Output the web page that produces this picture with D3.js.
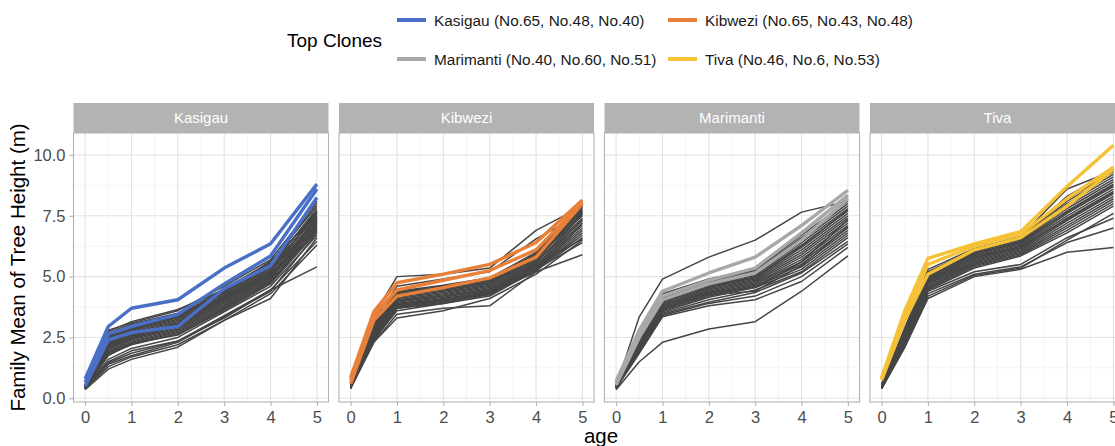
<!DOCTYPE html>
<html>
<head>
<meta charset="utf-8">
<script src="https://cdn.jsdelivr.net/npm/d3@7"></script>
<style>
  html, body { margin: 0; padding: 0; background: #ffffff; overflow: hidden; }
  svg { display: block; font-family: "Liberation Sans", Arial, sans-serif; }
</style>
</head>
<body>
<svg id="chart" width="1115" height="446"></svg>
<script>
// Ages at which family means were measured
const ages = [0, 0.5, 1, 2, 3, 4, 5];

const sites = ["Kasigau", "Kibwezi", "Marimanti", "Tiva"];
const siteColors = ["#4A6FC7", "#E9803A", "#A8A8A8", "#F5C136"];
const legendLabels = [
  "Kasigau (No.65, No.48, No.40)",
  "Kibwezi (No.65, No.43, No.48)",
  "Marimanti (No.40, No.60, No.51)",
  "Tiva (No.46, No.6, No.53)"
];
const xTicks = [0, 1, 2, 3, 4, 5];
const yTicks = [0, 2.5, 5, 7.5, 10];

// Family mean heights (m) by age, all families per site
const kasigauFamilies = [
  [0.45, 2.80, 3.10, 3.60, 4.60, 5.70, 8.10],
  [0.50, 2.70, 3.05, 3.50, 4.50, 5.60, 7.90],
  [0.40, 2.60, 2.95, 3.40, 4.45, 5.55, 8.00],
  [0.55, 2.55, 2.90, 3.35, 4.40, 5.50, 7.70],
  [0.45, 2.50, 2.85, 3.30, 4.30, 5.40, 7.80],
  [0.50, 2.40, 2.80, 3.25, 4.25, 5.35, 7.50],
  [0.40, 2.35, 2.75, 3.20, 4.20, 5.30, 7.60],
  [0.45, 2.30, 2.70, 3.15, 4.15, 5.25, 7.40],
  [0.50, 2.25, 2.65, 3.10, 4.10, 5.20, 7.30],
  [0.40, 2.20, 2.60, 3.05, 4.05, 5.15, 7.70],
  [0.45, 2.15, 2.55, 3.00, 4.00, 5.10, 7.20],
  [0.55, 2.10, 2.50, 2.95, 3.95, 5.05, 7.35],
  [0.40, 2.05, 2.45, 2.90, 3.90, 5.00, 7.10],
  [0.50, 2.00, 2.40, 2.85, 3.85, 4.95, 7.00],
  [0.45, 1.95, 2.35, 2.80, 3.80, 4.90, 7.25],
  [0.40, 1.90, 2.30, 2.75, 3.75, 4.85, 6.90],
  [0.50, 1.85, 2.25, 2.70, 3.70, 4.80, 7.05],
  [0.45, 1.80, 2.20, 2.65, 3.65, 4.75, 6.95],
  [0.40, 1.75, 2.25, 2.60, 3.60, 4.70, 6.85],
  [0.50, 2.60, 3.00, 3.45, 4.35, 5.45, 7.45],
  [0.45, 2.45, 2.85, 3.35, 4.35, 5.65, 7.55],
  [0.55, 2.75, 3.15, 3.65, 4.45, 5.50, 7.65],
  [0.40, 2.20, 2.55, 3.10, 4.20, 5.10, 7.15],
  [0.50, 2.05, 2.45, 3.00, 4.10, 5.00, 7.40],
  [0.40, 1.60, 2.05, 2.50, 3.55, 4.60, 6.70],
  [0.45, 1.45, 1.85, 2.35, 3.30, 4.45, 6.45],
  [0.40, 1.30, 1.70, 2.20, 3.20, 4.30, 6.30],
  [0.35, 1.20, 1.60, 2.10, 3.20, 4.10, 6.60],
  [0.45, 1.50, 1.95, 2.35, 3.40, 4.45, 5.40],
  [0.40, 1.40, 1.75, 2.30, 3.35, 4.40, 6.80]
];
const kibweziFamilies = [
  [0.55, 3.10, 4.40, 4.65, 4.95, 6.00, 7.90],
  [0.50, 3.00, 4.35, 4.60, 4.90, 5.95, 7.80],
  [0.60, 2.95, 4.30, 4.55, 4.85, 5.90, 7.70],
  [0.45, 2.90, 4.25, 4.50, 4.80, 5.85, 7.85],
  [0.55, 2.85, 4.20, 4.45, 4.75, 5.80, 7.60],
  [0.50, 2.80, 4.15, 4.40, 4.70, 5.75, 7.50],
  [0.40, 2.75, 4.10, 4.35, 4.65, 5.70, 7.65],
  [0.55, 2.70, 4.05, 4.30, 4.60, 5.65, 7.40],
  [0.50, 2.65, 4.00, 4.25, 4.55, 5.60, 7.30],
  [0.45, 2.60, 3.95, 4.20, 4.50, 5.55, 7.55],
  [0.60, 2.55, 3.90, 4.15, 4.45, 5.50, 7.20],
  [0.50, 2.50, 3.85, 4.10, 4.40, 5.45, 7.10],
  [0.45, 2.45, 3.80, 4.05, 4.35, 5.40, 7.00],
  [0.55, 2.40, 3.75, 4.00, 4.30, 5.35, 6.90],
  [0.40, 2.35, 3.70, 3.95, 4.25, 5.30, 6.80],
  [0.50, 2.60, 3.85, 4.05, 4.30, 5.30, 6.70],
  [0.45, 2.50, 3.70, 3.90, 4.20, 5.25, 6.60],
  [0.55, 2.75, 4.00, 4.20, 4.45, 5.45, 7.35],
  [0.50, 2.95, 4.25, 4.45, 4.75, 5.75, 7.75],
  [0.60, 3.05, 4.35, 4.60, 4.85, 5.90, 7.95],
  [0.60, 3.40, 5.00, 5.10, 5.35, 6.90, 7.90],
  [0.55, 3.20, 4.60, 4.90, 5.20, 6.55, 7.60],
  [0.40, 2.30, 3.45, 3.70, 3.80, 5.20, 7.20],
  [0.45, 2.30, 3.30, 3.60, 4.10, 5.10, 6.50],
  [0.45, 2.40, 3.60, 3.90, 4.30, 5.20, 5.90],
  [0.50, 2.50, 3.75, 4.00, 4.35, 5.30, 6.40],
  [0.50, 2.55, 3.80, 4.05, 4.40, 5.45, 6.55]
];
const marimantiFamilies = [
  [0.50, 2.70, 4.30, 4.90, 5.30, 6.80, 8.30],
  [0.45, 2.65, 4.25, 4.85, 5.25, 6.70, 8.10],
  [0.55, 2.60, 4.20, 4.80, 5.20, 6.60, 8.00],
  [0.40, 2.55, 4.15, 4.75, 5.15, 6.50, 7.90],
  [0.50, 2.50, 4.10, 4.70, 5.10, 6.40, 7.80],
  [0.45, 2.45, 4.05, 4.65, 5.05, 6.30, 7.70],
  [0.55, 2.40, 4.00, 4.60, 5.00, 6.20, 7.60],
  [0.40, 2.35, 3.95, 4.55, 4.95, 6.10, 7.50],
  [0.50, 2.30, 3.90, 4.50, 4.90, 6.00, 7.40],
  [0.45, 2.25, 3.85, 4.45, 4.85, 5.90, 7.30],
  [0.55, 2.20, 3.80, 4.40, 4.80, 5.80, 7.20],
  [0.40, 2.15, 3.75, 4.35, 4.75, 5.70, 7.10],
  [0.50, 2.10, 3.70, 4.30, 4.70, 5.60, 7.00],
  [0.45, 2.05, 3.65, 4.25, 4.65, 5.50, 6.90],
  [0.55, 2.00, 3.60, 4.20, 4.60, 5.40, 6.80],
  [0.40, 1.95, 3.55, 4.15, 4.55, 5.30, 6.70],
  [0.50, 2.00, 3.50, 4.05, 4.45, 5.20, 6.60],
  [0.45, 1.90, 3.45, 3.95, 4.35, 5.15, 6.45],
  [0.50, 2.35, 3.85, 4.35, 4.55, 5.60, 7.35],
  [0.45, 2.55, 4.10, 4.60, 4.95, 6.25, 7.75],
  [0.40, 2.20, 3.70, 4.25, 4.40, 5.45, 7.05],
  [0.50, 3.35, 4.90, 5.80, 6.50, 7.65, 8.10],
  [0.35, 1.50, 2.30, 2.85, 3.15, 4.40, 5.85],
  [0.40, 1.85, 3.35, 3.80, 4.05, 4.80, 6.20],
  [0.45, 1.90, 3.40, 3.90, 4.20, 5.00, 6.35]
];
const tivaFamilies = [
  [0.55, 2.90, 5.20, 6.10, 6.60, 8.30, 9.40],
  [0.50, 2.85, 5.15, 6.05, 6.55, 8.20, 9.30],
  [0.45, 2.80, 5.10, 6.00, 6.50, 8.10, 9.20],
  [0.60, 2.75, 5.05, 5.95, 6.45, 8.00, 9.10],
  [0.50, 2.70, 5.00, 5.90, 6.40, 7.90, 9.00],
  [0.45, 2.65, 4.95, 5.85, 6.35, 7.80, 8.90],
  [0.55, 2.60, 4.90, 5.80, 6.30, 7.70, 8.80],
  [0.40, 2.55, 4.85, 5.75, 6.25, 7.60, 8.70],
  [0.50, 2.50, 4.80, 5.70, 6.20, 7.50, 8.60],
  [0.45, 2.45, 4.75, 5.65, 6.15, 7.40, 8.50],
  [0.55, 2.40, 4.70, 5.60, 6.10, 7.30, 8.40],
  [0.40, 2.35, 4.65, 5.55, 6.05, 7.20, 8.30],
  [0.50, 2.30, 4.60, 5.50, 6.00, 7.10, 8.20],
  [0.45, 2.25, 4.55, 5.45, 5.95, 7.00, 8.10],
  [0.55, 2.20, 4.50, 5.40, 5.90, 6.90, 8.00],
  [0.40, 2.15, 4.45, 5.35, 5.85, 6.80, 7.90],
  [0.50, 2.45, 4.85, 5.80, 6.20, 7.35, 8.45],
  [0.45, 2.60, 4.95, 5.95, 6.40, 7.65, 8.75],
  [0.40, 2.10, 4.10, 5.00, 5.30, 6.00, 6.20],
  [0.45, 2.20, 4.30, 5.10, 5.40, 6.40, 7.00],
  [0.50, 2.25, 4.40, 5.20, 5.50, 6.60, 7.40],
  [0.40, 2.10, 4.20, 5.05, 5.35, 6.50, 7.60],
  [0.55, 2.70, 5.30, 6.15, 6.65, 8.60, 9.35]
];

// Top three clones per site
const kasigauTop = [
  [0.80, 2.95, 3.70, 4.05, 5.35, 6.35, 8.80],
  [0.65, 2.65, 2.95, 3.45, 4.70, 5.85, 8.60],
  [0.50, 2.40, 2.70, 2.95, 4.50, 5.45, 8.25]
];
const kibweziTop = [
  [0.85, 3.55, 4.75, 5.10, 5.50, 6.40, 8.15],
  [0.75, 3.40, 4.45, 4.85, 5.25, 6.10, 8.05],
  [0.60, 3.20, 4.20, 4.55, 4.95, 5.80, 8.00]
];
const marimantiTop = [
  [0.70, 2.80, 4.40, 5.15, 5.80, 7.10, 8.55],
  [0.60, 2.60, 4.20, 4.85, 5.35, 6.80, 8.35],
  [0.55, 2.50, 4.05, 4.70, 5.15, 6.50, 8.20]
];
const tivaTop = [
  [0.85, 3.60, 5.75, 6.35, 6.85, 8.70, 10.40],
  [0.80, 3.40, 5.50, 6.25, 6.75, 8.20, 9.50],
  [0.75, 3.20, 5.10, 6.10, 6.60, 7.90, 9.40]
];

const familiesBySite = [kasigauFamilies, kibweziFamilies, marimantiFamilies, tivaFamilies];
const topBySite = [kasigauTop, kibweziTop, marimantiTop, tivaTop];

// ---- layout ----
const svg = d3.select("#chart");
const panelW = 255, panelStep = 265.5, firstLeft = 73.5;
const stripTop = 103, stripH = 30, panelTop = 133, panelBottom = 402;

// shared y scale with 5% expansion of the data range
const allVals = familiesBySite.concat(topBySite).flat(2);
const yMin = d3.min(allVals), yMax = d3.max(allVals);
const yPad = (yMax - yMin) * 0.05;
const y = d3.scaleLinear().domain([yMin - yPad, yMax + yPad]).range([panelBottom, panelTop]);

const gridMajor = "#E3E3E3", gridMinor = "#F1F1F1", frame = "#B3B3B3";
const axisText = "#4D4D4D";

sites.forEach((site, i) => {
  const left = firstLeft + i * panelStep;
  const x = d3.scaleLinear().domain([-0.25, 5.25]).range([left, left + panelW]);
  const g = svg.append("g");

  // minor grid
  const xMinor = d3.range(0.5, 5, 1);
  const yMinor = [1.25, 3.75, 6.25, 8.75];
  g.selectAll(".xmin").data(xMinor).join("line")
    .attr("x1", d => x(d)).attr("x2", d => x(d))
    .attr("y1", panelTop).attr("y2", panelBottom)
    .attr("stroke", gridMinor).attr("stroke-width", 0.8);
  g.selectAll(".ymin").data(yMinor).join("line")
    .attr("x1", left).attr("x2", left + panelW)
    .attr("y1", d => y(d)).attr("y2", d => y(d))
    .attr("stroke", gridMinor).attr("stroke-width", 0.8);
  // major grid
  g.selectAll(".xmaj").data(xTicks).join("line")
    .attr("x1", d => x(d)).attr("x2", d => x(d))
    .attr("y1", panelTop).attr("y2", panelBottom)
    .attr("stroke", gridMajor).attr("stroke-width", 1.1);
  g.selectAll(".ymaj").data(yTicks).join("line")
    .attr("x1", left).attr("x2", left + panelW)
    .attr("y1", d => y(d)).attr("y2", d => y(d))
    .attr("stroke", gridMajor).attr("stroke-width", 1.1);

  const line = d3.line().x((d, k) => x(ages[k])).y(d => y(d));

  // all families
  g.selectAll(".fam").data(familiesBySite[i]).join("path")
    .attr("d", line).attr("fill", "none")
    .attr("stroke", "#454545").attr("stroke-width", 1.5)
    .attr("stroke-linejoin", "round");
  // top clones
  g.selectAll(".top").data(topBySite[i]).join("path")
    .attr("d", line).attr("fill", "none")
    .attr("stroke", siteColors[i]).attr("stroke-width", 3.4)
    .attr("stroke-linejoin", "round");

  // panel frame
  g.append("rect").attr("x", left).attr("y", panelTop)
    .attr("width", panelW).attr("height", panelBottom - panelTop)
    .attr("fill", "none").attr("stroke", frame).attr("stroke-width", 1.1);

  // strip
  g.append("rect").attr("x", left).attr("y", stripTop)
    .attr("width", panelW).attr("height", stripH).attr("fill", "#B3B3B3");
  g.append("text").attr("x", left + panelW / 2).attr("y", stripTop + stripH / 2)
    .attr("dy", "0.36em").attr("text-anchor", "middle")
    .attr("fill", "#FFFFFF").attr("font-size", 15).text(site);

  // x axis
  const xAxis = d3.axisBottom(x).tickValues(xTicks).tickSize(4).tickPadding(5)
    .tickFormat(d3.format("d"));
  const xa = g.append("g").attr("transform", `translate(0,${panelBottom})`).call(xAxis);
  xa.select(".domain").remove();
  xa.selectAll(".tick line").attr("stroke", frame).attr("stroke-width", 1.1);
  xa.selectAll(".tick text").attr("fill", axisText).attr("font-size", 16.5)
    .attr("font-family", "Liberation Sans, Arial, sans-serif");

  if (i === 0) {
    const yAxis = d3.axisLeft(y).tickValues(yTicks).tickSize(4).tickPadding(4)
      .tickFormat(d3.format(".1f"));
    const ya = g.append("g").attr("transform", `translate(${left},0)`).call(yAxis);
    ya.select(".domain").remove();
    ya.selectAll(".tick line").attr("stroke", frame).attr("stroke-width", 1.1);
    ya.selectAll(".tick text").attr("fill", axisText).attr("font-size", 16.5)
      .attr("font-family", "Liberation Sans, Arial, sans-serif");
  }
});

// axis titles
svg.append("text")
  .attr("transform", `translate(25,${(panelTop + panelBottom) / 2}) rotate(-90)`)
  .attr("text-anchor", "middle").attr("font-size", 20.5).attr("fill", "#000")
  .text("Family Mean of Tree Height (m)");
svg.append("text").attr("x", 601).attr("y", 443)
  .attr("text-anchor", "middle").attr("font-size", 20.5).attr("fill", "#000")
  .text("age");

// legend
svg.append("text").attr("x", 287).attr("y", 40).attr("dy", "0.36em")
  .attr("font-size", 19).attr("fill", "#000").text("Top Clones");
const legPos = [[397, 20], [668, 20], [397, 59], [668, 59]];
const leg = svg.selectAll(".leg").data(legendLabels).join("g")
  .attr("transform", (d, k) => `translate(${legPos[k][0]},${legPos[k][1]})`);
leg.append("line").attr("x1", 0).attr("x2", 29).attr("y1", 0).attr("y2", 0)
  .attr("stroke", (d, k) => siteColors[k]).attr("stroke-width", 4);
leg.append("text").attr("x", 37).attr("y", 0).attr("dy", "0.36em")
  .attr("font-size", 15.4).attr("fill", "#1A1A1A").text(d => d);
</script>
</body>
</html>
